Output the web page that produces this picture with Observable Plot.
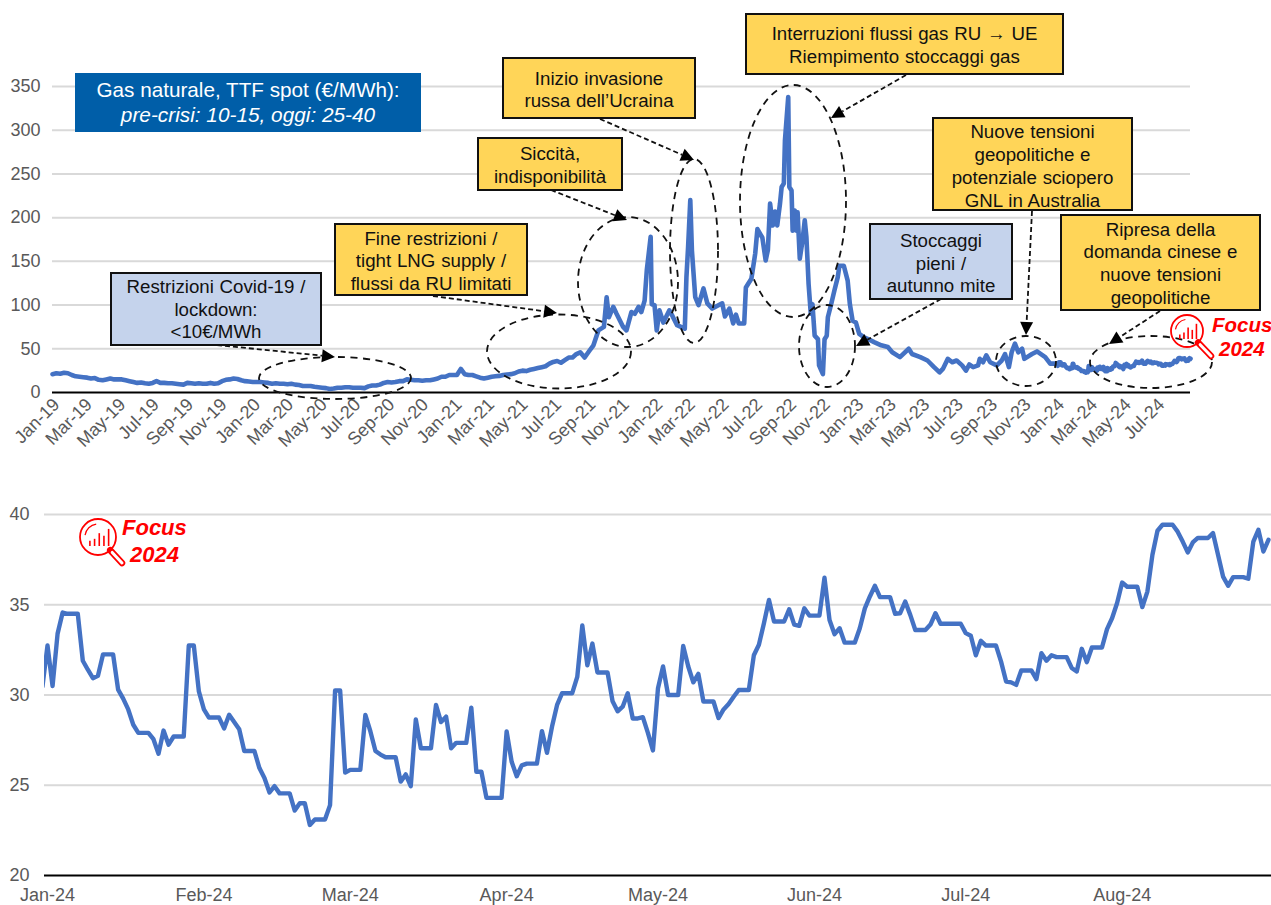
<!DOCTYPE html>
<html>
<head>
<meta charset="utf-8">
<style>
html,body{margin:0;padding:0;background:#fff;}
svg{display:block;}
</style>
<script src="https://cdn.jsdelivr.net/npm/d3@7"></script>
<script src="https://cdn.jsdelivr.net/npm/@observablehq/plot@0.6"></script>
</head>
<body>
<script>
// ---- DATA (EUR/MWh) ----
const weeklyStart = "2019-01-01"; // one value every 7 days from here
const weekly2019 = [21,22,21.5,22.5,22,20,18.5,18,17.5,17,16,16.5,14.5,14,15,16,15,15,15,14,13,12,11,11.5,10.5,10,11,13,11,11,10.5,10.5,10,9.5,9,11,10.5,10,10.5,10,10,11,10,10.5,13,14.5,15,16,15.5,14,13,12.5,12];
const weekly2020 = [12,12,11.5,11,10,10.5,10,10,9.5,10,9,8.5,7.5,7.5,7.5,6.5,6,5.5,5,4,4.5,5.5,5.5,6,6,5.5,5.5,5.5,5,7,8,8,9,11,12,11.5,12,13,13,15,14.5,14,14,13.5,14,14,15,16,18,18,20,20];
const weekly2021 = [20,27,21,20,20,18.5,17,16,17,18,18.5,19,20,20.5,21,22,24,25,24.5,26,27,28,29,30,33,35,36,34,37,40,40];
const points2021 = [["2021-08-10",44],["2021-08-17",46],["2021-08-25",40],["2021-09-03",48],["2021-09-10",54],["2021-09-19",71],["2021-09-29",75],["2021-10-04",109],["2021-10-08",86],["2021-10-16",98],["2021-10-22",90],["2021-11-03",75],["2021-11-09",71],["2021-11-18",92],["2021-11-24",90],["2021-12-01",98],["2021-12-06",92],["2021-12-12",105],["2021-12-16",140],["2021-12-23",178],["2021-12-25",101],["2021-12-30",100]];
const points2022 = [["2022-01-03",71],["2022-01-08",94],["2022-01-15",80],["2022-01-26",94],["2022-02-01",87],["2022-02-09",77],["2022-02-23",73],["2022-02-26",132],["2022-03-01",166],["2022-03-05",220],["2022-03-08",162],["2022-03-14",109],["2022-03-20",100],["2022-03-29",119],["2022-04-05",102],["2022-04-14",96],["2022-05-02",102],["2022-05-07",87],["2022-05-15",96],["2022-05-22",79],["2022-05-27",89],["2022-06-01",79],["2022-06-11",79],["2022-06-14",120],["2022-06-24",130],["2022-07-01",159],["2022-07-05",187],["2022-07-14",177],["2022-07-20",151],["2022-07-24",163],["2022-07-28",216],["2022-08-02",191],["2022-08-06",207],["2022-08-10",191],["2022-08-15",216],["2022-08-18",235],["2022-08-22",239],["2022-08-24",288],["2022-08-30",338],["2022-09-01",235],["2022-09-05",231],["2022-09-07",185],["2022-09-11",208],["2022-09-14",185],["2022-09-16",206],["2022-09-20",153],["2022-09-25",174],["2022-09-29",197],["2022-10-02",178],["2022-10-06",124],["2022-10-10",90],["2022-10-13",101],["2022-10-17",65],["2022-10-23",61],["2022-10-25",31],["2022-11-01",21],["2022-11-04",61],["2022-11-08",65],["2022-11-10",86],["2022-11-16",101],["2022-11-22",117],["2022-11-28",132],["2022-12-01",145],["2022-12-09",145],["2022-12-16",128],["2022-12-20",101],["2022-12-25",82],["2022-12-31",80]];
const points2023 = [["2023-01-06",67],["2023-01-15",63],["2023-01-21",61.4],["2023-02-02",57.6],["2023-02-15",54],["2023-02-27",52],["2023-03-07",46],["2023-03-21",40.5],["2023-04-06",50],["2023-04-12",44],["2023-04-27",40.5],["2023-05-10",36.6],["2023-05-22",29],["2023-06-01",23],["2023-06-07",27],["2023-06-16",38.5],["2023-06-24",34.6],["2023-07-02",36.6],["2023-07-12",31],["2023-07-19",25],["2023-07-25",32],["2023-08-01",29],["2023-08-10",31],["2023-08-13",38.5],["2023-08-19",34.6],["2023-08-25",42.5],["2023-09-01",34.6],["2023-09-13",31],["2023-09-22",36.6],["2023-09-28",44],["2023-10-05",29],["2023-10-10",46],["2023-10-16",56],["2023-10-22",46],["2023-10-29",50],["2023-11-02",38.5],["2023-11-16",44],["2023-11-25",47],["2023-12-10",40.5],["2023-12-19",33],["2023-12-28",33]];
const dailyStart = "2023-12-31"; // one value per calendar day from here
const daily2024 = [30.47,
32.74,30.5,33.4,34.57,34.5,34.5,34.5,31.9,31.4,30.93,
31.06,32.25,32.25,32.25,30.3,29.8,29.2,28.35,27.9,27.9,
27.9,27.55,26.75,28.03,27.25,27.7,27.7,27.7,32.74,32.74,
30.2,29.2,28.75,28.75,28.75,28.15,28.9,28.5,28.1,26.9,
26.9,26.9,25.95,25.4,24.6,24.95,24.55,24.55,24.55,23.6,
24,24,22.8,23.1,23.1,23.1,23.9,30.25,30.25,25.7,
25.85,25.85,25.85,28.9,27.98,26.9,26.7,26.55,26.55,26.55,
25.2,25.6,24.95,28.65,27.05,27.05,27.05,29.45,28.5,28.8,
27.05,27.35,27.35,27.35,29.3,25.75,25.75,24.3,24.3,24.3,
24.3,27.98,26.3,25.5,26.1,26.2,26.2,26.2,28,26.8,
28.25,29.45,30.1,30.1,30.1,31,33.85,31.65,32.85,31.25,
31.25,31.25,29.65,29.1,29.35,30.1,28.7,28.7,28.77,27.9,
26.93,30.38,31.58,30,30,30,32.72,31.58,30.7,31.17,
29.64,29.64,29.64,28.72,29.2,29.5,29.9,30.28,30.28,30.28,
32.2,32.78,33.98,35.27,34.07,34.07,34.07,34.75,33.9,33.83,
34.8,34.4,34.4,34.4,36.5,34.16,33.37,33.7,32.9,32.9,
32.9,33.7,34.8,35.46,36.05,35.42,35.42,35.42,34.5,34.53,
35.18,34.44,33.6,33.6,33.6,33.9,34.53,33.95,33.95,33.95,
33.95,33.95,33.43,33.28,32.2,33,32.74,32.74,32.74,31.85,
30.75,30.7,30.56,31.36,31.36,31.36,30.88,32.32,31.9,32.2,
32.1,32.1,32.1,31.5,31.3,32.56,31.82,32.63,32.63,32.63,
33.65,34.25,35.1,36.23,36,36,36,34.87,35.73,37.77,
39.1,39.43,39.43,39.43,39.05,38.5,37.9,38.45,38.7,38.7,
38.7,38.97,37.77,36.56,36.05,36.53,36.53,36.53,36.44,38.5,
39.15,37.95,38.6];

const topYTicks = [0,50,100,150,200,250,300,350];
const topXTicks = ["2019-01","2019-03","2019-05","2019-07","2019-09","2019-11","2020-01","2020-03","2020-05","2020-07","2020-09","2020-11","2021-01","2021-03","2021-05","2021-07","2021-09","2021-11","2022-01","2022-03","2022-05","2022-07","2022-09","2022-11","2023-01","2023-03","2023-05","2023-07","2023-09","2023-11","2024-01","2024-03","2024-05","2024-07"];
const bottomYTicks = [20,25,30,35,40];
const bottomXTicks = ["2024-01","2024-02","2024-03","2024-04","2024-05","2024-06","2024-07","2024-08"];

const headerLines = ["Gas naturale, TTF spot (€/MWh):","pre-crisi: 10-15, oggi: 25-40"];
const callouts = [
  {lines:["Restrizioni Covid-19 /","lockdown:","<10€/MWh"], kind:"blue"},
  {lines:["Fine restrizioni /","tight LNG supply /","flussi da RU limitati"], kind:"yellow"},
  {lines:["Siccità,","indisponibilità"], kind:"yellow"},
  {lines:["Inizio invasione","russa dell’Ucraina"], kind:"yellow"},
  {lines:["Interruzioni flussi gas RU → UE","Riempimento stoccaggi gas"], kind:"yellow"},
  {lines:["Stoccaggi","pieni /","autunno mite"], kind:"blue"},
  {lines:["Nuove tensioni","geopolitiche e","potenziale sciopero","GNL in Australia"], kind:"yellow"},
  {lines:["Ripresa della","domanda cinese e","nuove tensioni","geopolitiche"], kind:"yellow"}
];

// ---- LAYOUT (page pixels, separate from the data) ----
const W = 1271, FONT = "'Liberation Sans', Arial, sans-serif";
const GRID = "#D9D9D9", LINE = "#4472C4", TICK = "#595959";
const boxes = [[111,273,321,345],[335,224,527,295],[478,138,622,190],[503,58,695,118],[746,14,1063,74],[870,224,1012,299],[933,118,1132,210],[1061,215,1260,310]];
const lineYs = [[286,309,331],[238,260,283],[153,176],[78,100],[33,56],[240,263,285],[131,154,177,200],[229,251,274,297]];
const ellipses = [[335,378,76,21],[559,351.5,72,37],[628,282,50,65],[694,251,24,92],[793,201,53,116],[827,346,28,41],[1026,361,30,25],[1151,362,61,26]];
const arrows = [[217,345,335,357],[433,296,557,313],[551,190,627,220],[600,119,694,160],[906,75,831,118],[941,299,856,346],[1032,211,1026,335],[1160,311,1109,344]];

function focusIcon(g, cx, cy, r, hx, hy, tx1, ty1, tx2, ty2, fs){
  const RED = "#FF0000";
  const i = g.append("g").attr("fill","none").attr("stroke",RED).attr("stroke-width",1.8);
  i.append("circle").attr("cx",cx).attr("cy",cy).attr("r",r);
  const ang = Math.atan2(hy-cy,hx-cx), nx=Math.cos(ang), ny=Math.sin(ang);
  const sx=cx+nx*r, sy=cy+ny*r;
  i.append("line").attr("x1",sx).attr("y1",sy).attr("x2",hx).attr("y2",hy).attr("stroke-width",6.5).attr("stroke-linecap","round");
  i.append("line").attr("x1",sx+nx*3).attr("y1",sy+ny*3).attr("x2",hx).attr("y2",hy).attr("stroke","#fff").attr("stroke-width",3).attr("stroke-linecap","round");
  const bars=[0.3,0.42,0.75,0.6,1];
  bars.forEach((b,k)=>{
    const x=cx-r*0.45+k*r*0.26, base=cy+r*0.5;
    i.append("line").attr("x1",x).attr("x2",x).attr("y1",base).attr("y2",base-b*r*0.95).attr("stroke-width",1.6);
  });
  i.append("path").attr("d",`M${cx-r*0.72},${cy-r*0.1} A${r*0.74},${r*0.74} 0 0 1 ${cx-r*0.1},${cy-r*0.72}`).attr("stroke-width",1.2);
  [["Focus",tx1,ty1],["2024",tx2,ty2]].forEach(([s,x,y])=>{
    g.append("text").attr("x",x).attr("y",y).text(s).attr("fill",RED).attr("text-anchor","start")
     .attr("font-family",FONT).attr("font-weight","bold").attr("font-style","italic").attr("font-size",fs);
  });
}

// Annotation layer of the upper chart
function annotations(){
  const g = d3.create("svg:g");
  ellipses.forEach(([cx,cy,rx,ry])=>{
    g.append("ellipse").attr("cx",cx).attr("cy",cy).attr("rx",rx).attr("ry",ry)
     .attr("fill","none").attr("stroke","#111").attr("stroke-width",1.8).attr("stroke-dasharray","7,5.5");
  });
  arrows.forEach(([x1,y1,x2,y2])=>{
    const a=Math.atan2(y2-y1,x2-x1), L=13, B=6.5;
    const bx=x2-L*Math.cos(a), by=y2-L*Math.sin(a);
    g.append("line").attr("x1",x1).attr("y1",y1).attr("x2",bx).attr("y2",by)
     .attr("stroke","#111").attr("stroke-width",1.8).attr("stroke-dasharray","5,3");
    const p=[[x2,y2],[bx-B*Math.sin(a),by+B*Math.cos(a)],[bx+B*Math.sin(a),by-B*Math.cos(a)]];
    g.append("polygon").attr("points",p.map(q=>q.join(",")).join(" ")).attr("fill","#000");
  });
  g.append("rect").attr("x",75).attr("y",73).attr("width",346).attr("height",59).attr("fill","#005EA8");
  g.append("text").attr("x",248).attr("y",97).attr("text-anchor","middle").attr("fill","#fff")
    .attr("font-family",FONT).attr("font-size",20.7).text(headerLines[0]);
  g.append("text").attr("x",248).attr("y",122).attr("text-anchor","middle").attr("fill","#fff")
    .attr("font-family",FONT).attr("font-size",20.8).attr("font-style","italic").text(headerLines[1]);
  callouts.forEach((c,i)=>{
    const [x0,y0,x1,y1]=boxes[i];
    g.append("rect").attr("x",x0).attr("y",y0).attr("width",x1-x0).attr("height",y1-y0)
      .attr("fill",c.kind==="blue"?"#C5D3EC":"#FFD558").attr("stroke","#111").attr("stroke-width",2);
    c.lines.forEach((s,k)=>{
      g.append("text").attr("x",(x0+x1)/2).attr("y",lineYs[i][k]+6.5).attr("text-anchor","middle")
       .attr("fill","#111").attr("font-family",FONT).attr("font-size",18.7).attr("word-spacing",0.6).text(s);
    });
  });
  focusIcon(g,1187,331,16,1211,356,1212,332,1219,356,20.5);
  return g.node();
}
const BOTTOM_TOP = 470; // page y at which the lower chart starts
function bottomAnnotations(){
  const g = d3.create("svg:g");
  focusIcon(g,98,537-BOTTOM_TOP,18,122,563-BOTTOM_TOP,122,535-BOTTOM_TOP,130,562-BOTTOM_TOP,22);
  return g.node();
}

// ---- TOP CHART ----
const weeklyValues = [...weekly2019,...weekly2020,...weekly2021];
const t0 = new Date(weeklyStart), d0 = new Date(dailyStart);
const topSeries = [
  ...weeklyValues.map((v,i)=>({date:d3.utcDay.offset(t0,i*7),value:v})),
  ...[...points2021,...points2022,...points2023].map(([s,v])=>({date:new Date(s),value:v})),
  ...daily2024.slice(1).map((v,i)=>({date:d3.utcDay.offset(d0,i+1),value:v}))
];
const bottomSeries = daily2024.map((v,i)=>({date:d3.utcDay.offset(d0,i),value:v}));

const fmt = d3.utcFormat("%b-%y");
const topChart = Plot.plot({
  width:W, height:BOTTOM_TOP, marginTop:86, marginBottom:78, marginLeft:52, marginRight:81,
  style:{fontFamily:FONT, background:"#fff", overflow:"visible"},
  x:{type:"utc", domain:[new Date("2019-01-01"),new Date("2024-08-30")]},
  y:{domain:[0,350]},
  marks:[
    Plot.ruleY(topYTicks.filter(d=>d>0),{stroke:GRID,strokeWidth:2}),
    Plot.ruleY([0],{stroke:"#000",strokeWidth:2}),
    Plot.axisY({ticks:topYTicks,tickSize:0,tickPadding:12,label:null,fontSize:18,color:TICK,stroke:"none"}),
    Plot.axisX({ticks:topXTicks.map(s=>new Date(s)),tickFormat:fmt,tickSize:0,tickPadding:9,tickRotate:-45,label:null,fontSize:18,color:TICK,dx:4,stroke:"none"}),
    Plot.line(topSeries,{x:"date",y:"value",stroke:LINE,strokeWidth:4.6,strokeLinejoin:"round"}),
    annotations
  ]
});
document.body.appendChild(topChart);

// ---- BOTTOM CHART ----
const bottomChart = Plot.plot({
  width:W, height:905-BOTTOM_TOP, marginTop:44, marginBottom:30, marginLeft:44, marginRight:0,
  style:{fontFamily:FONT, background:"#fff", overflow:"visible"},
  x:{type:"utc", domain:[new Date("2023-12-31T09:43Z"),new Date("2024-08-30T14:24Z")]},
  y:{domain:[20,40]},
  marks:[
    Plot.ruleY(bottomYTicks.filter(d=>d>20),{stroke:GRID,strokeWidth:2}),
    Plot.ruleY([20],{stroke:"#000",strokeWidth:2}),
    Plot.axisY({ticks:bottomYTicks,tickSize:0,tickPadding:15,label:null,fontSize:18,color:TICK,stroke:"none"}),
    Plot.axisX({ticks:bottomXTicks.map(s=>new Date(s)),tickFormat:fmt,tickSize:0,tickPadding:13,label:null,fontSize:18,color:TICK,stroke:"none"}),
    Plot.line(bottomSeries,{x:"date",y:"value",stroke:LINE,strokeWidth:4.4,clip:true,strokeLinejoin:"round"}),
    bottomAnnotations
  ]
});
document.body.appendChild(bottomChart);
</script>
</body>
</html>
